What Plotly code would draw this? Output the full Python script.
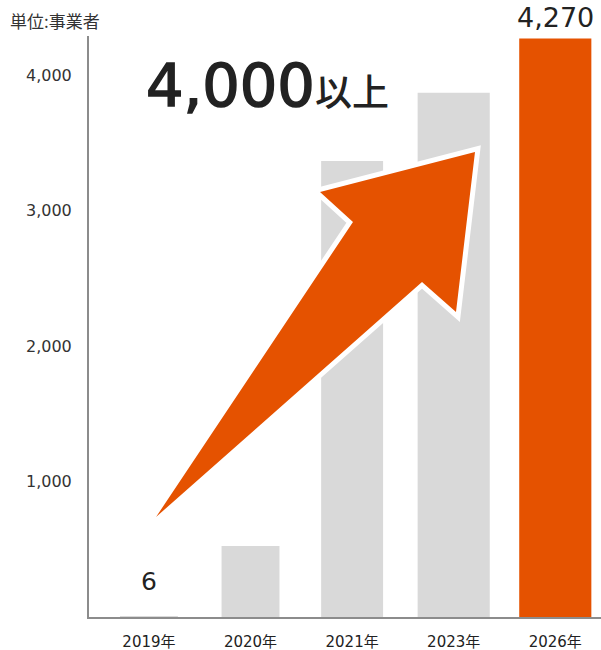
import plotly.graph_objects as go

# ---- data ----
years = ["2019年", "2020年", "2021年", "2023年", "2026年"]
operators = [6, 524, 3365, 3870, 4270]
value_labels = ["6", "", "", "", "4,270"]
y_ticks = [1000, 2000, 3000, 4000]
y_tick_text = ["1,000", "2,000", "3,000", "4,000"]
headline_number = "4,000"
headline_suffix = "以上"
unit_label = "単位:事業者"

# ---- styles ----
GRAY = "#d9d9d9"
ORANGE = "#e55200"
AXIS = "#8c8c8c"
TEXT = "#222222"
NUM_FONT = "DejaVu Sans, Noto Sans CJK JP"
JP_FONT = "Noto Sans CJK JP"

bar_colors = [GRAY, GRAY, GRAY, GRAY, ORANGE]
bar_widths = [0.57, 0.57, 0.61, 0.71, 0.71]

fig = go.Figure()
fig.add_trace(go.Bar(
    x=years, y=operators,
    marker=dict(color=bar_colors, line=dict(width=0)),
    width=bar_widths,
    hoverinfo="skip",
    showlegend=False,
))

annotations = []
label_sizes = {0: 25, 4: 27}
label_shift = {0: 18, 4: 3}
for i, (yr, v, t) in enumerate(zip(years, operators, value_labels)):
    if t:
        annotations.append(dict(
            x=yr, y=v, xref="x", yref="y", text=t, showarrow=False,
            xanchor="center", yanchor="bottom", yshift=label_shift[i],
            font=dict(family=NUM_FONT, size=label_sizes[i], color=TEXT),
        ))

# headline
annotations.append(dict(
    x=0.3496, y=0.915, xref="paper", yref="paper", showarrow=False,
    xanchor="center", yanchor="middle",
    text=(f"<span style='stroke:{TEXT};stroke-width:1.6px'>{headline_number}</span>"
          f"<span style='font-family:{JP_FONT};font-size:37px;font-weight:500'>{headline_suffix}</span>"),
    font=dict(family="DejaVu Sans", size=59, color=TEXT),
))
# unit
annotations.append(dict(
    x=-0.158, y=1.0275, xref="paper", yref="paper", showarrow=False,
    xanchor="left", yanchor="middle", text=unit_label,
    font=dict(family=JP_FONT, size=17, color="#333333"),
))

# arrow (decorative) in paper coordinates
arrow_pts = [(0.1309, 0.1721), (0.5156, 0.6799), (0.4512, 0.7315),
             (0.7539, 0.8003), (0.7168, 0.5250), (0.6504, 0.5766)]
path = "M " + " L ".join(f"{x},{y}" for x, y in arrow_pts) + " Z"
shapes = [
    dict(type="path", path=path, xref="paper", yref="paper", layer="above",
         fillcolor="white", line=dict(color="white", width=10)),
    dict(type="path", path=path, xref="paper", yref="paper", layer="above",
         fillcolor=ORANGE, line=dict(width=0)),
]

fig.update_layout(
    width=601, height=650,
    margin=dict(l=89, r=0, t=36, b=33),
    paper_bgcolor="white", plot_bgcolor="white",
    bargap=0.3,
    annotations=annotations,
    shapes=shapes,
    xaxis=dict(
        type="category", range=[-0.59, 4.45],
        showline=True, linecolor=AXIS, linewidth=2,
        showgrid=False, zeroline=False, ticks="",
        tickfont=dict(family=NUM_FONT, size=15, color=TEXT),
        ticklabelstandoff=10, fixedrange=True,
    ),
    yaxis=dict(
        range=[0, 4288],
        showline=True, linecolor=AXIS, linewidth=2,
        showgrid=False, zeroline=False, ticks="",
        tickvals=y_ticks, ticktext=y_tick_text,
        tickfont=dict(family=NUM_FONT, size=16, color="#333333"),
        ticklabelstandoff=12, fixedrange=True,
    ),
)

fig.write_html("out.html", config={"displayModeBar": False})
